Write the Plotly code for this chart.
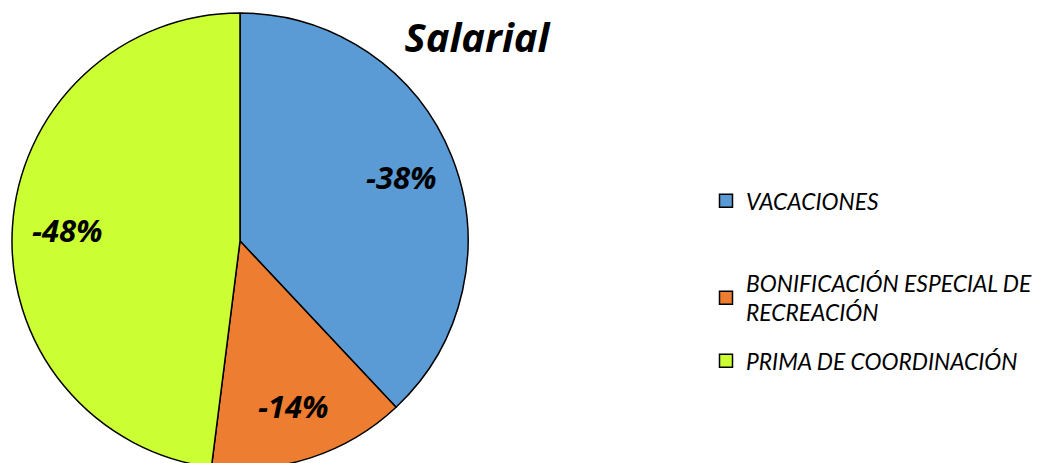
import math
import plotly.graph_objects as go

labels = ["VACACIONES", "BONIFICACIÓN ESPECIAL DE<br>RECREACIÓN", "PRIMA DE COORDINACIÓN"]
values = [38, 14, 48]
shown = ["-38%", "-14%", "-48%"]
colors = ["#5b9bd5", "#ed7d31", "#ccff33"]

W, H = 1048, 463
# pie box in figure pixels (page adds an 8px body margin)
cx, cy, r = 232, 233, 228

fig = go.Figure()
fig.add_trace(go.Pie(
    labels=labels, values=values, textinfo="none",
    sort=False, direction="clockwise", rotation=0, showlegend=False,
    marker=dict(colors=colors, line=dict(color="black", width=1.5)),
    domain=dict(x=[(cx - r) / W, (cx + r) / W], y=[(H - cy - r) / H, (H - cy + r) / H]),
    hoverinfo="label+text", text=shown,
))

# data labels at the middle angle of each slice
total = sum(values)
acc = 0
for v, t in zip(values, shown):
    mid = (acc + v / 2) / total * 2 * math.pi
    acc += v
    px = cx + 0.76 * r * math.sin(mid)
    py = cy - 0.76 * r * math.cos(mid)
    fig.add_annotation(x=px / W, y=1 - py / H, xref="paper", yref="paper",
                       xanchor="center", yanchor="middle",
                       text=t, showarrow=False,
                       font=dict(family="Open Sans", size=31, color="black",
                                 weight="bold", style="italic"))

# legend: one entry per slice, each in its own legend box so spacing follows the original
legend_ids = ["legend", "legend2", "legend3"]
legend_y = [193, 290, 353]  # item centres in figure pixels
for lab, col, lid in zip(labels, colors, legend_ids):
    fig.add_trace(go.Scatter(
        x=[None], y=[None], mode="markers", name=lab, legend=lid,
        marker=dict(symbol="square", size=13, color=col, line=dict(color="black", width=1.5)),
    ))

leg_style = dict(x=698 / W, xanchor="left", yanchor="middle", bgcolor="rgba(0,0,0,0)",
                 font=dict(family="Lato", size=22.8, style="italic", color="black"),
                 itemwidth=30)

fig.update_layout(
    width=W, height=H,
    margin=dict(l=0, r=0, t=0, b=0),
    paper_bgcolor="white", plot_bgcolor="white",
    font=dict(family="Lato", color="black"),
    xaxis=dict(visible=False), yaxis=dict(visible=False),
    title=dict(text="Salarial", x=469 / W, xanchor="center", y=0.935, yanchor="middle",
               xref="paper", yref="container",
               font=dict(size=40, family="Open Sans", weight="bold", style="italic", color="black")),
    legend=dict(y=1 - legend_y[0] / H, **leg_style),
    legend2=dict(y=1 - legend_y[1] / H, **leg_style),
    legend3=dict(y=1 - legend_y[2] / H, **leg_style),
)

fig.write_html("out.html")
